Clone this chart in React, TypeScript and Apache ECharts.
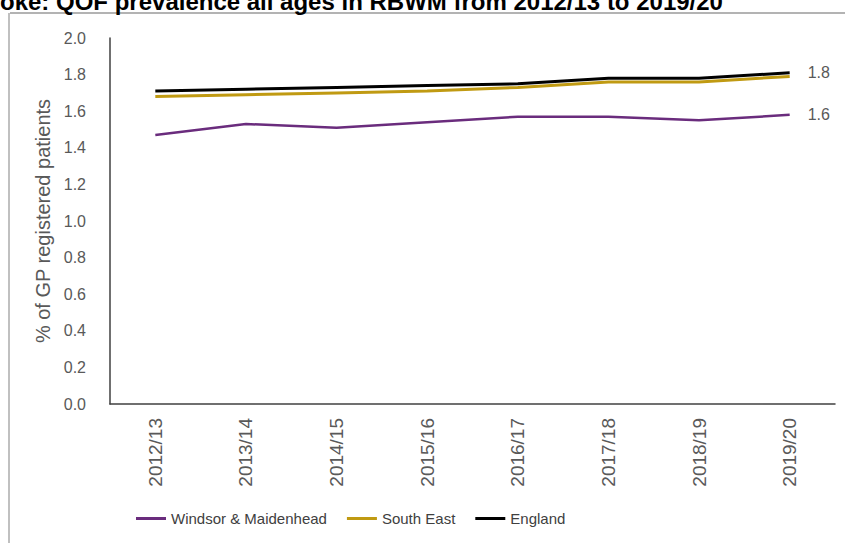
import React, { useEffect, useRef } from "react";
import * as echarts from "echarts";

const categories = ["2012/13", "2013/14", "2014/15", "2015/16", "2016/17", "2017/18", "2018/19", "2019/20"];
const windsor = [1.47, 1.53, 1.51, 1.54, 1.57, 1.57, 1.55, 1.58];
const southEast = [1.68, 1.69, 1.70, 1.71, 1.73, 1.76, 1.76, 1.79];
const england = [1.71, 1.72, 1.73, 1.74, 1.75, 1.78, 1.78, 1.81];
const yTicks = [0, 0.2, 0.4, 0.6, 0.8, 1.0, 1.2, 1.4, 1.6, 1.8, 2.0];
const titleText = "oke: QOF prevalence all ages in RBWM from 2012/13 to 2019/20";

const FONT = "'Liberation Sans', Arial, sans-serif";

export default function App() {
  const ref = useRef<HTMLDivElement>(null);
  useEffect(() => {
    if (!ref.current) return;
    const chart = echarts.init(ref.current, null, { renderer: "svg" });
    const endLabel = (show: boolean) => ({
      show,
      formatter: (p: any) => Number(p.value).toFixed(1),
      color: "#595959",
      fontSize: 16,
      fontFamily: FONT,
      distance: 18,
    });
    chart.setOption({
      animation: false,
      textStyle: { fontFamily: FONT },
      graphic: [
        {
          type: "line",
          shape: { x1: 10, y1: 13, x2: 845, y2: 13 },
          style: { stroke: "#b3b3b3", lineWidth: 2 },
        },
        {
          type: "line",
          shape: { x1: 9, y1: 13, x2: 9, y2: 543 },
          style: { stroke: "#c0c0c0", lineWidth: 2 },
        },
        {
          type: "text",
          x: 0,
          y: 13,
          style: {
            text: titleText,
            font: "bold 24px " + FONT,
            fill: "#000",
            verticalAlign: "bottom",
          },
        },
      ],
      grid: { left: 110, right: 10, top: 38, bottom: 139 },
      legend: {
        bottom: 12,
        left: 131,
        itemWidth: 30,
        itemHeight: 3,
        itemGap: 20,
        icon: "rect",
        textStyle: { color: "#404040", fontSize: 15, fontFamily: FONT },
        data: ["Windsor & Maidenhead", "South East", "England"],
      },
      xAxis: {
        type: "category",
        data: categories,
        boundaryGap: true,
        axisLine: { lineStyle: { color: "#404040", width: 1.5 } },
        axisTick: { show: false },
        axisLabel: { rotate: 90, color: "#595959", fontSize: 19, margin: 14, fontFamily: FONT },
      },
      yAxis: {
        type: "value",
        min: 0,
        max: 2,
        interval: 0.2,
        name: "% of GP registered patients",
        nameLocation: "middle",
        nameGap: 52,
        nameTextStyle: { color: "#595959", fontSize: 20, fontFamily: FONT },
        axisLine: { show: true, lineStyle: { color: "#404040", width: 1.5 } },
        axisTick: { show: false },
        splitLine: { show: false },
        axisLabel: {
          color: "#595959",
          fontSize: 16,
          margin: 24,
          fontFamily: FONT,
          formatter: (v: number) => {
            const t = yTicks.find((x) => Math.abs(x - v) < 1e-6);
            return (t !== undefined ? t : v).toFixed(1);
          },
        },
      },
      series: [
        {
          name: "Windsor & Maidenhead",
          type: "line",
          data: windsor,
          symbol: "none",
          lineStyle: { color: "#6a2c7d", width: 2.5 },
          itemStyle: { color: "#6a2c7d" },
          endLabel: endLabel(true),
        },
        {
          name: "South East",
          type: "line",
          data: southEast,
          symbol: "none",
          lineStyle: { color: "#c09a12", width: 3 },
          itemStyle: { color: "#c09a12" },
          endLabel: endLabel(false),
        },
        {
          name: "England",
          type: "line",
          data: england,
          symbol: "none",
          lineStyle: { color: "#000000", width: 3 },
          itemStyle: { color: "#000000" },
          endLabel: endLabel(true),
        },
      ],
    });
    return () => chart.dispose();
  }, []);
  return (
    <div
      ref={ref}
      style={{ position: "fixed", left: 0, top: 0, width: 845, height: 543, background: "#fff" }}
    />
  );
}
